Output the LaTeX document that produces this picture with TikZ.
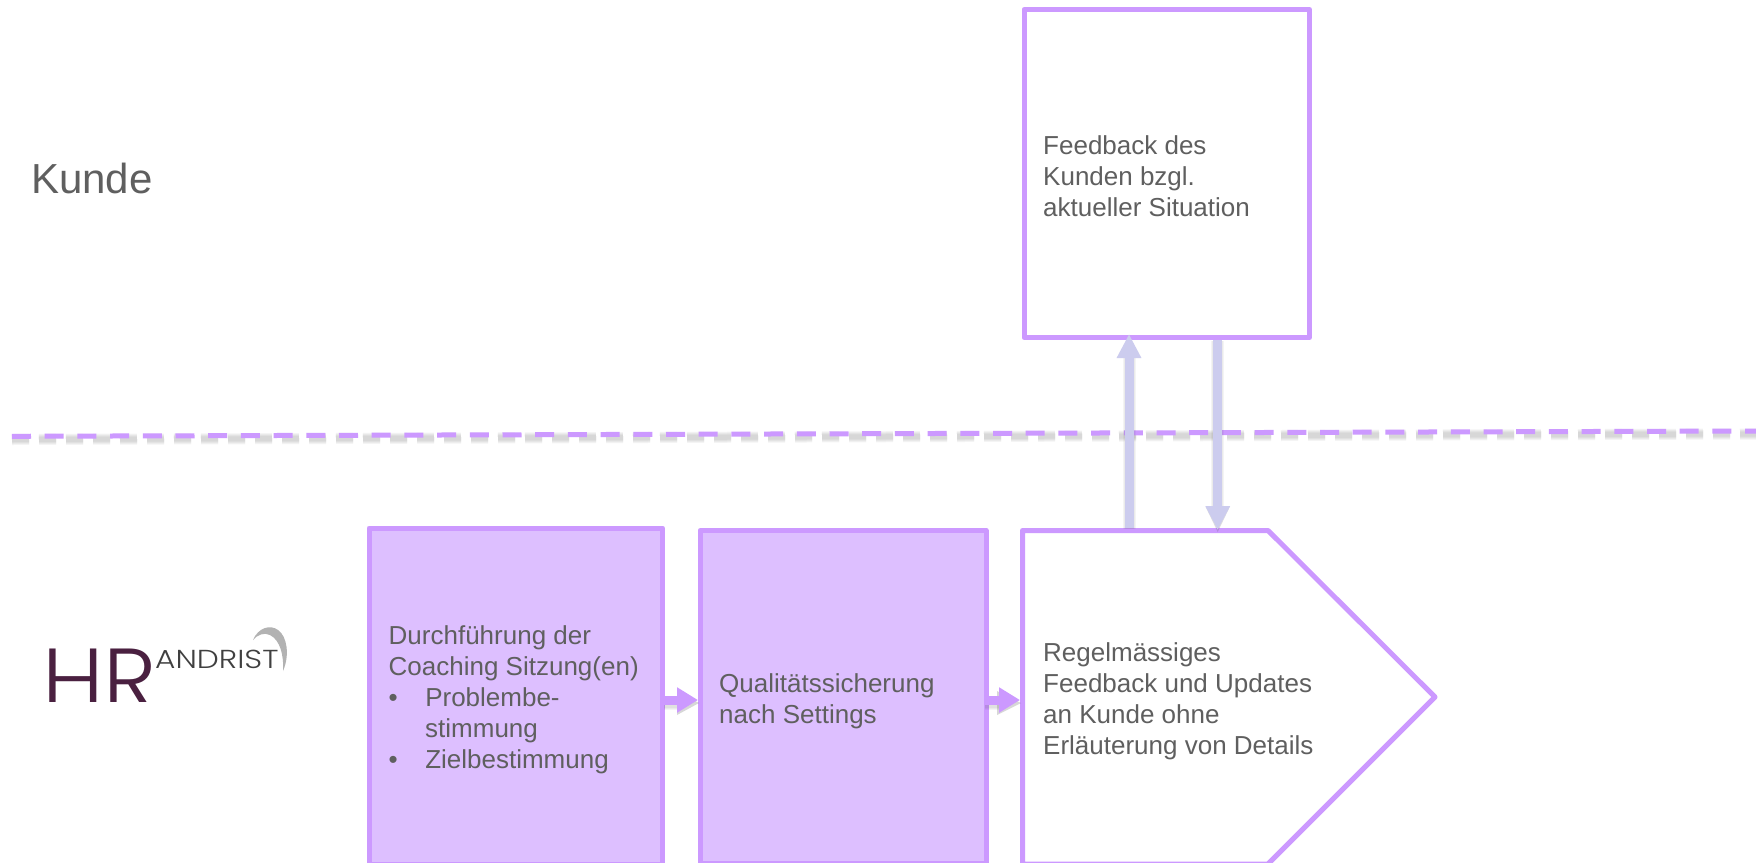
\documentclass[tikz,border=0pt]{standalone}
\usepackage{fontspec}
\usetikzlibrary{arrows.meta}
\setmainfont{Liberation Sans}
\newfontfamily\logofont{Poppins}[UprightFont=* Light]
\definecolor{edgeviolet}{HTML}{CC99FF}
\definecolor{lilac}{HTML}{DDBFFF}
\definecolor{flow}{HTML}{CCCCEE}
\definecolor{ink}{HTML}{5F5F5F}
\definecolor{plum}{HTML}{4A2040}
\tikzset{
  x=1pt,y=-1pt,
  box/.style={draw=edgeviolet,line width=5pt,line join=round,inner sep=0pt,outer sep=0pt,anchor=north west},
  label/.style={text=ink,align=left,anchor=west,inner sep=0pt,font=\fontsize{26}{31}\selectfont},
  bigflow/.style={draw=flow,line width=9pt,-{Triangle[length=24pt,width=23pt]}},
  smallflow/.style={draw=edgeviolet,line width=9pt,-{Triangle[length=21pt,width=24pt]}},
  shade/.style={draw=black!70,draw opacity=.06,line width=#1},
}
\begin{document}
\begin{tikzpicture}
\useasboundingbox (0,0) rectangle (1756,862);
\clip (0,0) rectangle (1756,862);
\fill[white] (0,0) rectangle (1756,862);

% divider
\foreach \w in {11pt,9pt,7pt,5pt}
  \draw[shade=\w,dash pattern=on 17pt off 10pt] (12,439.5) -- (1756,434);
\coordinate (divL) at (12,436.3);
\coordinate (divR) at (1756,431);
\draw[draw=edgeviolet,line width=5pt,dash pattern=on 19pt off 13.7pt] (divL) -- (divR);

% boxes
\node[box,minimum width=285.5pt,minimum height=328pt] (feedback) at (1024,9.5) {};
\node[box,fill=lilac,minimum width=293.5pt,minimum height=336pt] (coach) at (369,528) {};
\node[box,fill=lilac,minimum width=286pt,minimum height=333pt] (quality) at (700,530.5) {};
\coordinate (pa) at (1022.5,530.5);
\coordinate (pb) at (1268,530.5);
\coordinate (pc) at (1435,697);
\coordinate (pd) at (1268,864);
\coordinate (pe) at (1022.5,864);
\draw[draw=edgeviolet,line width=5pt,line join=round] (pa) -- (pb) -- (pc) -- (pd) -- (pe) -- cycle;

% texts
\node[label,anchor=base west,font=\fontsize{42}{50}\selectfont] (kunde) at (31,193) {Kunde};
\node[label] (tfeedback) at (1043,176.5) {Feedback des\\Kunden bzgl.\\aktueller Situation};
\node[label] (tcoach) at (388.5,700) {Durchführung der\\Coaching Sitzung(en)\\•\hspace{27.5pt}Problembe-\\\hspace*{36.5pt}stimmung\\•\hspace{27.5pt}Zielbestimmung};
\node[label] (tquality) at (719,701.5) {Qualitätssicherung\\nach Settings};
\node[label] (tpent) at (1043,701) {Regelmässiges\\Feedback und Updates\\an Kunde ohne\\Erläuterung von Details};

% connectors
\coordinate (c1a) at (663,700); \coordinate (c1b) at (698,700);
\coordinate (c2a) at (984,700); \coordinate (c2b) at (1020,700);
\coordinate (upa) at (1129,528); \coordinate (upb) at (1129,334);
\coordinate (dna) at (1217.7,340); \coordinate (dnb) at (1217.7,530);
\foreach \w in {13pt,11pt,9pt}{
  \draw[shade=\w] ([xshift=1pt,yshift=-3pt]c1a) -- ([xshift=-20pt,yshift=-3pt]c1b);
  \draw[shade=\w] ([xshift=1pt,yshift=-3pt]c2a) -- ([xshift=-20pt,yshift=-3pt]c2b);
  \draw[shade=\w] ([yshift=-1pt]upa) -- ([yshift=-24pt]upb);
  \draw[shade=\w] ([yshift=-1pt]dna) -- ([yshift=22pt]dnb);
}
\fill[black!70,opacity=.22] ([xshift=-21pt,yshift=-15pt]c1b) -- ([xshift=1pt,yshift=-3pt]c1b) -- ([xshift=-21pt,yshift=9pt]c1b) -- cycle;
\fill[black!70,opacity=.22] ([xshift=-23pt,yshift=-15pt]c2b) -- ([xshift=1pt,yshift=-3pt]c2b) -- ([xshift=-23pt,yshift=9pt]c2b) -- cycle;
\fill[black!70,opacity=.18] ([xshift=-12pt,yshift=23pt]dnb) -- ([yshift=-2pt]dnb) -- ([xshift=12pt,yshift=23pt]dnb) -- cycle;
\draw[smallflow] (c1a) -- (c1b);
\draw[smallflow] (c2a) -- (c2b);
\draw[bigflow] (upa) -- (upb);
\draw[bigflow] (dna) -- (dnb);

% logo
\begin{scope}
\clip (40,640) rectangle (160,701);
\node[anchor=base west,inner sep=0pt,text=plum,font=\logofont\fontsize{88}{88}\selectfont] (logohr) at (42,710) {\scalebox{1.03}[1]{HR}};
\end{scope}
\node[anchor=base west,inner sep=0pt,text=black!75,font=\logofont\fontsize{26}{26}\selectfont] (logoname) at (155,668) {\scalebox{1.2}[1]{ANDRIST}};
\fill[black!30] (253,640) .. controls (258,628) and (270,624) .. (278,630) .. controls (287,636) and (290,655) .. (283,671) .. controls (284,655) and (280,640) .. (270,635) .. controls (264,632) and (257,635) .. (253,640) -- cycle;
\end{tikzpicture}
\end{document}
